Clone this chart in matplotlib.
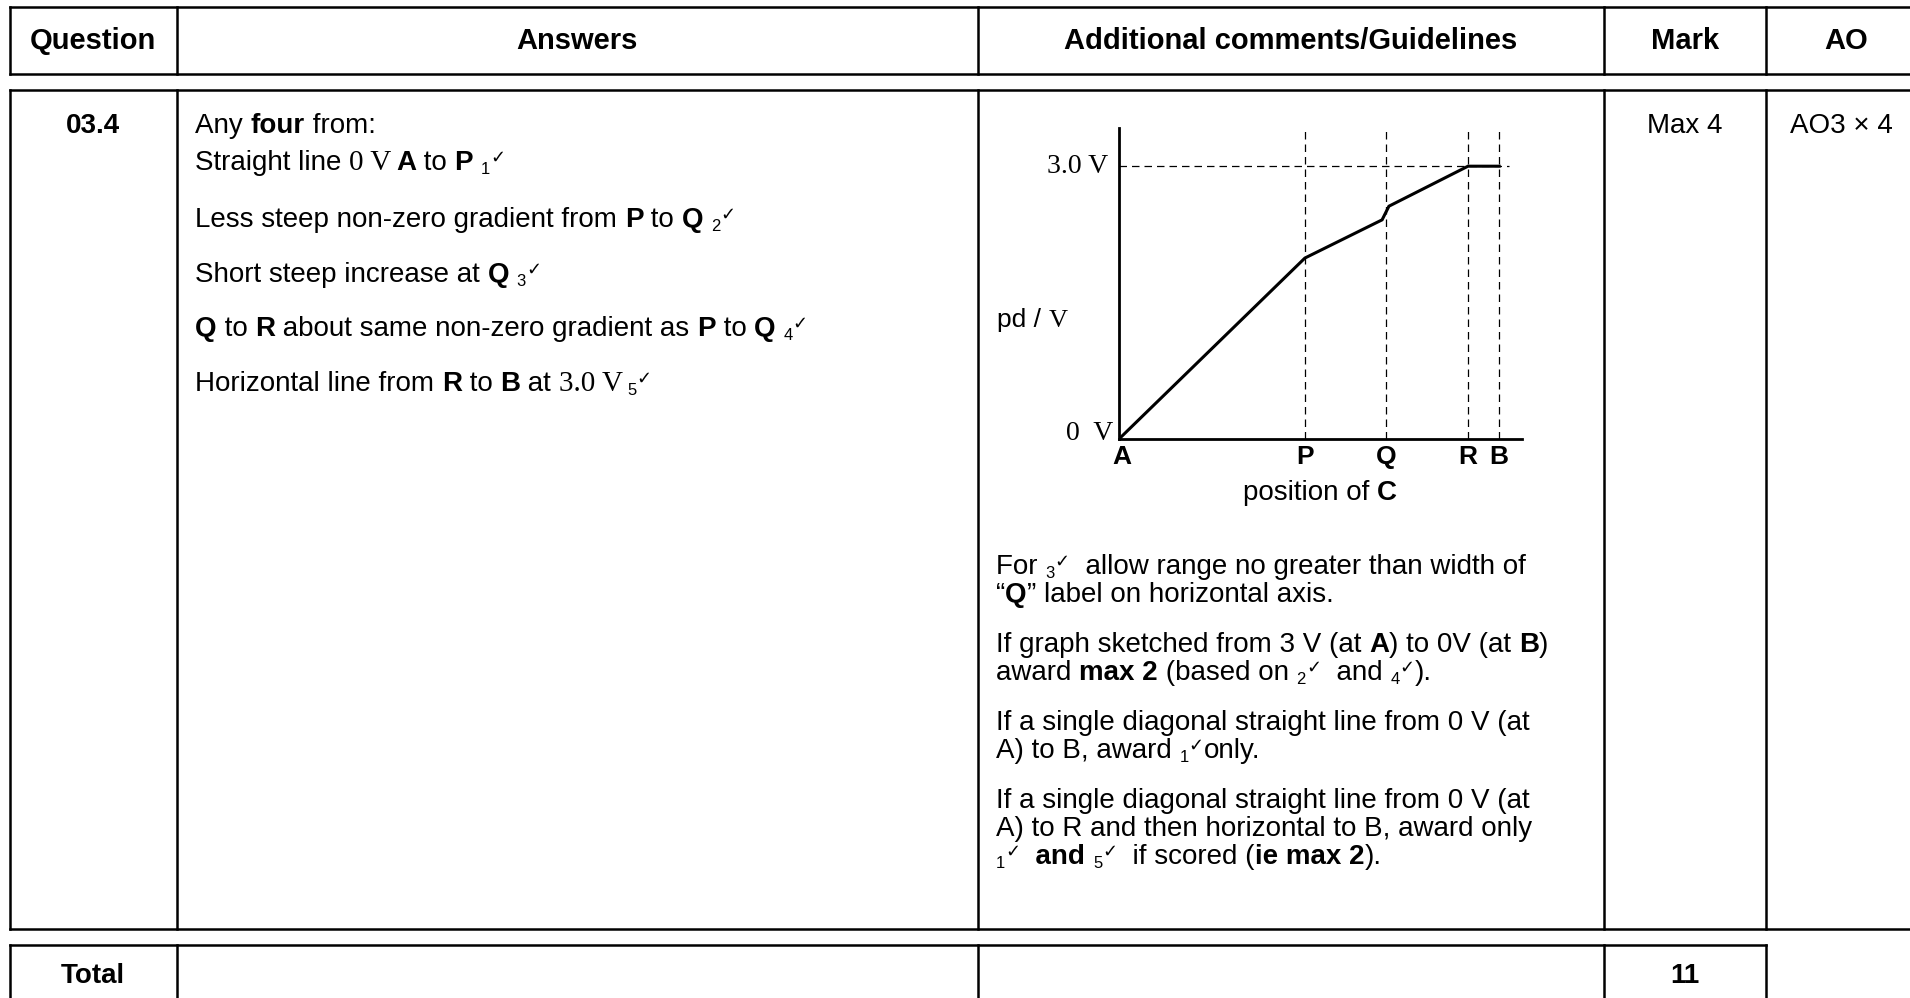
import matplotlib
matplotlib.use("Agg")
import matplotlib.pyplot as plt

# ---------------- data ----------------
header_labels = ["Question", "Answers", "Additional comments/Guidelines", "Mark", "AO"]
question_id = "03.4"
mark_text = "Max 4"
ao_text = "AO3 \u00d7 4"
total_label = "Total"
total_mark = "11"

position_labels = ["A", "P", "Q", "R", "B"]
position_x = [0.0, 4.89, 7.03, 9.18, 10.0]
curve_x = [0.0, 4.89, 6.92, 7.10, 9.18, 10.0]
curve_v = [0.0, 1.99, 2.41, 2.56, 3.0, 3.0]
supply_v = 3.0

# ---------------- styles ----------------
FS = 20
N = dict(family="Liberation Sans", size=FS)
B = dict(family="Liberation Sans", size=FS, weight="bold")
HB = dict(family="Liberation Sans", size=21, weight="bold")
SER = dict(family="Liberation Serif", size=FS + 1)
def SUB():
    return dict(family="Liberation Sans", size=12, dy=4)
def CHK():
    return dict(family="DejaVu Sans", size=13, dy=-7)

W, H = 1910, 998
fig = plt.figure(figsize=(W / 100, H / 100), dpi=100)
cv = fig.add_axes([0, 0, 1, 1])
cv.set_xlim(0, W)
cv.set_ylim(H, 0)
cv.axis("off")
renderer = fig.canvas.get_renderer()


def measure(s, props):
    p = {k: v for k, v in props.items() if k != "dy"}
    t1 = cv.text(0, 0, "a" + s + "a", **p)
    t2 = cv.text(0, 0, "aa", **p)
    w = t1.get_window_extent(renderer).width - t2.get_window_extent(renderer).width
    t1.remove(); t2.remove()
    return w


def runs(x, y, parts, ha="left"):
    widths = [measure(s, p) for s, p in parts]
    total = sum(widths)
    if ha == "center":
        x -= total / 2
    elif ha == "right":
        x -= total
    for (s, p), w in zip(parts, widths):
        q = dict(p)
        dy = q.pop("dy", 0)
        cv.text(x, y + dy, s, va="baseline", ha="left", **q)
        x += w


def line(x0, y0, x1, y1, lw=1.8):
    cv.plot([x0, x1], [y0, y1], color="black", lw=lw, solid_capstyle="projecting")


# ---------------- table frame ----------------
cols = [10, 177, 978, 1604, 1766]
line(10, 7, W + 5, 7)
line(10, 74, W + 5, 74)
for c in cols:
    line(c, 7, c, 74)
line(10, 90, W + 5, 90)
line(10, 929, W + 5, 929)
for c in cols:
    line(c, 90, c, 929)
line(10, 945, 1766, 945)
for c in cols:
    line(c, 945, c, H + 5)

# ---------------- header text ----------------
hx = [93, 577, 1291, 1685, 1846]
for lab, x in zip(header_labels, hx):
    runs(x, 49, [(lab, HB)], ha="center")

# ---------------- row text ----------------
runs(93, 133, [(question_id, B)], ha="center")
runs(1685, 133, [(mark_text, N)], ha="center")
runs(1841, 133, [(ao_text, N)], ha="center")

ax0 = 195
runs(ax0, 133, [("Any ", N), ("four", B), (" from:", N)])
runs(ax0, 170, [("Straight line ", N), ("0 V", SER), (" ", N), ("A", B), (" to ", N),
                ("P", B), (" ", N), ("1", SUB()), ("\u2713", CHK())])
runs(ax0, 227, [("Less steep non-zero gradient from ", N), ("P", B), (" to ", N), ("Q", B),
                (" ", N), ("2", SUB()), ("\u2713", CHK())])
runs(ax0, 282, [("Short steep increase at ", N), ("Q", B), (" ", N), ("3", SUB()), ("\u2713", CHK())])
runs(ax0, 336, [("Q", B), (" to ", N), ("R", B), (" about same non-zero gradient as ", N),
                ("P", B), (" to ", N), ("Q", B), (" ", N), ("4", SUB()), ("\u2713", CHK())])
runs(ax0, 391, [("Horizontal line from ", N), ("R", B), (" to ", N), ("B", B), (" at ", N),
                ("3.0 V", SER), (" ", N), ("5", SUB()), ("\u2713", CHK())])

gx = 996
runs(gx, 574, [("For ", N), ("3", SUB()), ("\u2713", CHK()), ("  allow range no greater than width of", N)])
runs(gx, 602, [("\u201c", N), ("Q", B), ("\u201d label on horizontal axis.", N)])
runs(gx, 652, [("If graph sketched from 3 V (at ", N), ("A", B), (") to 0V (at ", N), ("B", B), (")", N)])
runs(gx, 680, [("award ", N), ("max 2", B), (" (based on ", N), ("2", SUB()), ("\u2713", CHK()),
               ("  and ", N), ("4", SUB()), ("\u2713", CHK()), (").", N)])
runs(gx, 730, [("If a single diagonal straight line from 0 V (at", N)])
runs(gx, 758, [("A) to B, award ", N), ("1", SUB()), ("\u2713", CHK()), ("only.", N)])
runs(gx, 808, [("If a single diagonal straight line from 0 V (at", N)])
runs(gx, 836, [("A) to R and then horizontal to B, award only", N)])
runs(gx, 864, [("1", SUB()), ("\u2713", CHK()), ("  and", B), (" ", N), ("5", SUB()), ("\u2713", CHK()),
               ("  if scored (", N), ("ie max 2", B), (").", N)])

# total row
runs(93, 983, [(total_label, B)], ha="center")
runs(1685, 983, [(total_mark, B)], ha="center")

# ---------------- embedded graph ----------------
px_left, px_right, px_top, px_bottom = 1119, 1522, 128, 439
XMAX, YMAX = 10.6, 3.42
ga = fig.add_axes([px_left / W, 1 - px_bottom / H, (px_right - px_left) / W, (px_bottom - px_top) / H])
ga.set_xlim(0, XMAX)
ga.set_ylim(0, YMAX)
ga.patch.set_alpha(0)
for s in ["top", "right"]:
    ga.spines[s].set_visible(False)
for s in ["left", "bottom"]:
    ga.spines[s].set_linewidth(2.0)
ga.set_xticks([])
ga.set_yticks([])

dash = (0, (6, 4))
for xv in position_x[1:]:
    ga.plot([xv, xv], [0, YMAX], color="black", lw=0.9, linestyle=dash)
ga.plot([0, 10.26], [supply_v, supply_v], color="black", lw=0.9, linestyle=dash)
ga.plot(curve_x, curve_v, color="black", lw=2.2, solid_joinstyle="miter")

for lab, xv in zip(position_labels, position_x):
    ga.text(xv + (0.08 if lab == "A" else 0), -0.07, lab, ha="center", va="top",
            family="Liberation Sans", weight="bold", size=19)

cv.text(1108, 166, "3.0 V", ha="right", va="center", family="Liberation Serif", size=20)
cv.text(1113, 433, "0  V", ha="right", va="center", family="Liberation Serif", size=20)
runs(997, 327, [("pd / ", dict(family="Liberation Sans", size=19)),
                ("V", dict(family="Liberation Serif", size=19))])
runs(1320, 500, [("position of ", dict(family="Liberation Sans", size=20)),
                 ("C", dict(family="Liberation Sans", size=20, weight="bold"))], ha="center")

fig.savefig("out.png", dpi=100, facecolor="white")
